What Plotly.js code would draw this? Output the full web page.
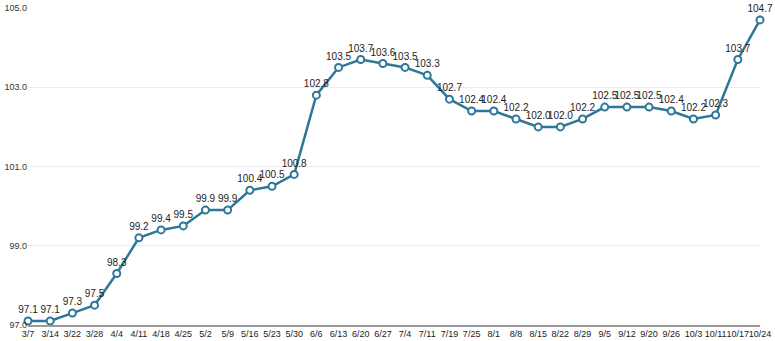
<!DOCTYPE html>
<html><head><meta charset="utf-8">
<script src="https://cdn.plot.ly/plotly-3.0.1.min.js"></script>
<style>html,body{margin:0;padding:0;background:#fff;}#chart{width:775px;height:341px;}</style>
</head><body><div id="chart"></div>
<script>
const categories = ["3/7","3/14","3/22","3/28","4/4","4/11","4/18","4/25","5/2","5/9","5/16","5/23","5/30","6/6","6/13","6/20","6/27","7/4","7/11","7/19","7/25","8/1","8/8","8/15","8/22","8/29","9/5","9/12","9/20","9/26","10/3","10/11","10/17","10/24"];
const values = [97.1,97.1,97.3,97.5,98.3,99.2,99.4,99.5,99.9,99.9,100.4,100.5,100.8,102.8,103.5,103.7,103.6,103.5,103.3,102.7,102.4,102.4,102.2,102.0,102.0,102.2,102.5,102.5,102.5,102.4,102.2,102.3,103.7,104.7];
const yTicks = [97,99,101,103,105];

const trace = {
  x: categories, y: values, type: 'scatter', mode: 'lines+markers+text',
  text: values.map(v => v.toFixed(1)), textposition: 'top center',
  textfont: {family: 'Liberation Sans, Arial, sans-serif', size: 10, color: '#222'},
  line: {color: '#2f7799', width: 2.5},
  marker: {symbol: 'circle', size: 7, color: '#ffffff', line: {color: '#2f7799', width: 2}},
  cliponaxis: false, hoverinfo: 'none'
};
const layout = {
  width: 775, height: 341,
  margin: {l: 28, r: 15, t: 8, b: 16},
  paper_bgcolor: '#fff', plot_bgcolor: '#fff',
  showlegend: false,
  font: {family: 'Liberation Sans, Arial, sans-serif', size: 9, color: '#333'},
  xaxis: {type: 'category', range: [0, categories.length - 1], showgrid: false, zeroline: false,
          showline: true, linecolor: '#999', linewidth: 1.5, ticks: '', tickfont: {size: 9, color: '#222'},
          tickangle: 0, automargin: false},
  yaxis: {range: [97, 105], tickvals: yTicks, ticktext: yTicks.map(v => v.toFixed(1)),
          showgrid: true, gridcolor: '#ececec', gridwidth: 1, zeroline: false, showline: false,
          ticks: '', tickfont: {size: 9, color: '#333'}, automargin: false}
};
Plotly.newPlot('chart', [trace], layout, {displayModeBar: false, staticPlot: true});
</script></body></html>
